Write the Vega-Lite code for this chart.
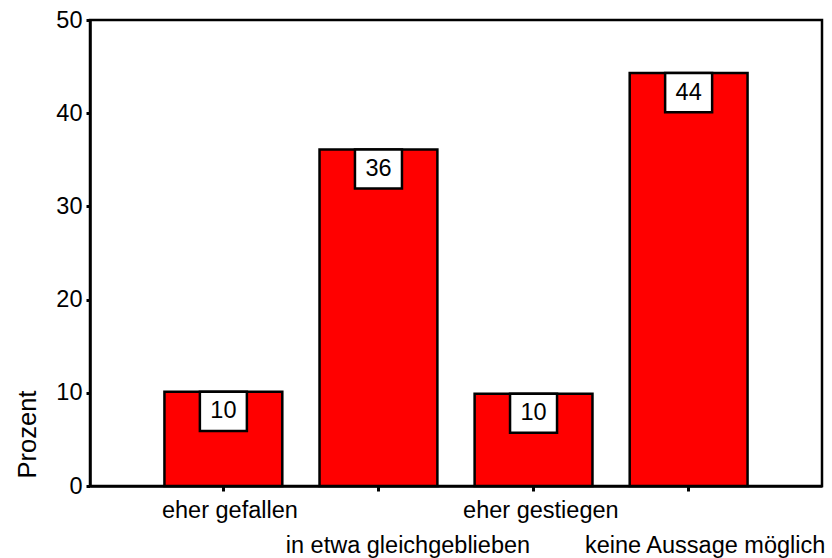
{
  "$schema": "https://vega.github.io/schema/vega-lite/v6.json",
  "width": 732,
  "height": 466,
  "autosize": {"type": "none"},
  "padding": {"left": 90, "top": 20, "right": 10, "bottom": 72},
  "background": "white",
  "config": {
    "font": "Liberation Sans",
    "view": {"stroke": "black", "strokeWidth": 2.5},
    "axis": {"labelFont": "Liberation Sans", "titleFont": "Liberation Sans", "labelColor": "black", "titleColor": "black", "domainColor": "black", "tickColor": "black", "grid": false, "labelFontSize": 23.5, "titleFontSize": 25.5, "titleFontWeight": "normal", "domainWidth": 2.5, "labelLimit": 400}
  },
  "data": {
    "values": [
      {"kategorie": "eher gefallen", "prozent": 10.1, "label": "10"},
      {"kategorie": "in etwa gleichgeblieben", "prozent": 36.1, "label": "36"},
      {"kategorie": "eher gestiegen", "prozent": 9.9, "label": "10"},
      {"kategorie": "keine Aussage möglich", "prozent": 44.3, "label": "44"}
    ]
  },
  "encoding": {
    "x": {
      "field": "kategorie",
      "type": "nominal",
      "sort": null,
      "scale": {"paddingInner": 0.24, "paddingOuter": 0.48},
      "axis": {
        "title": null,
        "labelAngle": 0,
        "labelAlign": "center",
        "labelBaseline": "top",
        "labelPadding": 7,
        "labelLineHeight": 35,
        "tickSize": 5,
        "tickWidth": 3,
        "labelOverlap": false,
        "labelOffset": {
          "condition": [
            {"test": "datum.value == 'eher gefallen'", "value": 6.5},
            {"test": "datum.value == 'in etwa gleichgeblieben'", "value": 29.5},
            {"test": "datum.value == 'eher gestiegen'", "value": 7.3}
          ],
          "value": 16.5
        },
        "labelExpr": "(datum.value == 'in etwa gleichgeblieben' || datum.value == 'keine Aussage möglich') ? ['', datum.value] : datum.value"
      }
    },
    "y": {
      "field": "prozent",
      "type": "quantitative",
      "scale": {"domain": [0, 50], "nice": false},
      "axis": {
        "title": "Prozent",
        "values": [0, 10, 20, 30, 40, 50],
        "tickSize": 4,
        "tickWidth": 3,
        "labelPadding": 4,
        "titleAngle": -90,
        "titleAlign": "center",
        "titleBaseline": "alphabetic",
        "titleX": -55,
        "titleY": 414
      }
    }
  },
  "layer": [
    {"mark": {"type": "bar", "color": "#ff0000", "stroke": "black", "strokeWidth": 2.5}},
    {
      "mark": {"type": "point", "shape": "M-1,0H1V1.66H-1Z", "size": 2209, "filled": true, "fill": "white", "stroke": "black", "strokeWidth": 2.5, "opacity": 1}
    },
    {
      "mark": {"type": "text", "fontSize": 23.5, "font": "Liberation Sans", "color": "black", "baseline": "middle", "align": "center", "dy": 19.5},
      "encoding": {"text": {"field": "label"}}
    }
  ]
}
